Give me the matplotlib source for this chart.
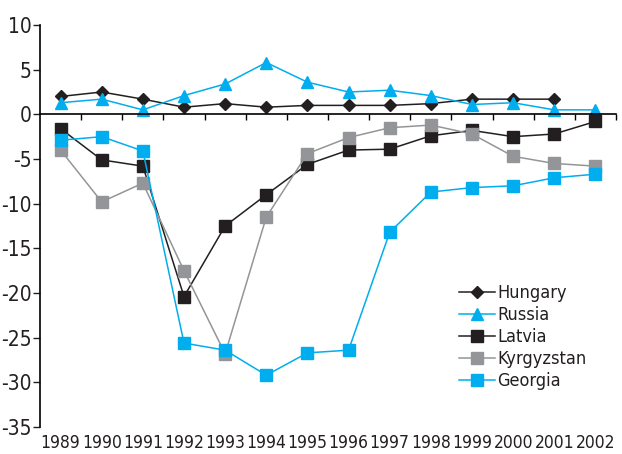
import matplotlib.pyplot as plt
import numpy as np

plt.rcParams['font.family'] = ['DejaVu Sans']
plt.rcParams['font.stretch'] = 'condensed'
plt.rcParams['axes.unicode_minus'] = False

years = ['1989', '1990', '1991', '1992', '1993', '1994', '1995',
         '1996', '1997', '1998', '1999', '2000', '2001', '2002']
hungary = [2.0, 2.5, 1.7, 0.8, 1.2, 0.8, 1.0, 1.0, 1.0, 1.2, 1.7, 1.7, 1.7, np.nan]
russia = [1.3, 1.7, 0.5, 2.1, 3.4, 5.8, 3.6, 2.5, 2.7, 2.1, 1.1, 1.3, 0.5, 0.5]
latvia = [-1.6, -5.1, -5.8, -20.4, -12.5, -9.0, -5.6, -4.0, -3.9, -2.4, -1.8, -2.5, -2.2, -0.8]
kyrgyzstan = [-4.0, -9.8, -7.7, -17.5, -26.8, -11.5, -4.4, -2.6, -1.5, -1.2, -2.2, -4.7, -5.5, -5.8]
georgia = [-2.9, -2.5, -4.1, -25.6, -26.4, -29.2, -26.7, -26.4, -13.2, -8.7, -8.2, -8.0, -7.1, -6.7]

blue = '#00aeef'
black = '#231f20'
grey = '#939598'

fig = plt.figure(figsize=(6.22, 4.54), dpi=100)
ax = fig.add_axes([40/622, 1-427/454, 576/622, 402/454])

x = np.arange(len(years))
ax.plot(x, hungary, color=black, lw=1.1, marker='D', ms=6.5, label='Hungary')
ax.plot(x, russia, color=blue, lw=1.1, marker='^', ms=8.5, label='Russia')
ax.plot(x, latvia, color=black, lw=1.1, marker='s', ms=8.5, label='Latvia')
ax.plot(x, kyrgyzstan, color=grey, lw=1.1, marker='s', ms=8.5, label='Kyrgyzstan')
ax.plot(x, georgia, color=blue, lw=1.1, marker='s', ms=8.5, label='Georgia')

ax.set_xlim(-0.5, 13.5)
ax.set_ylim(-35, 10)
ax.set_yticks(np.arange(-35, 11, 5))
ax.tick_params(axis='y', labelsize=15, length=5, width=1, colors=black, pad=1)

for s in ['top', 'right']:
    ax.spines[s].set_visible(False)
ax.spines['bottom'].set_position(('data', 0))
ax.spines['left'].set_linewidth(1.2)
ax.spines['bottom'].set_linewidth(1.2)
ax.set_xticks(np.arange(0.5, 14, 1))
ax.set_xticklabels([])
ax.tick_params(axis='x', length=4, width=1, direction='out')

sec = ax.secondary_xaxis(0)
sec.set_xticks(x, years)
sec.spines['bottom'].set_visible(False)
sec.tick_params(length=0, labelsize=12.5, pad=5, colors=black)

leg = ax.legend(loc='upper left', bbox_to_anchor=(452/622, 1-277/454),
                bbox_transform=fig.transFigure, frameon=False, fontsize=13,
                handlelength=2.0, handletextpad=0.1, labelspacing=0.22,
                borderaxespad=0)
for t in leg.get_texts():
    t.set_color(black)

fig.savefig('out.png', dpi=100)
